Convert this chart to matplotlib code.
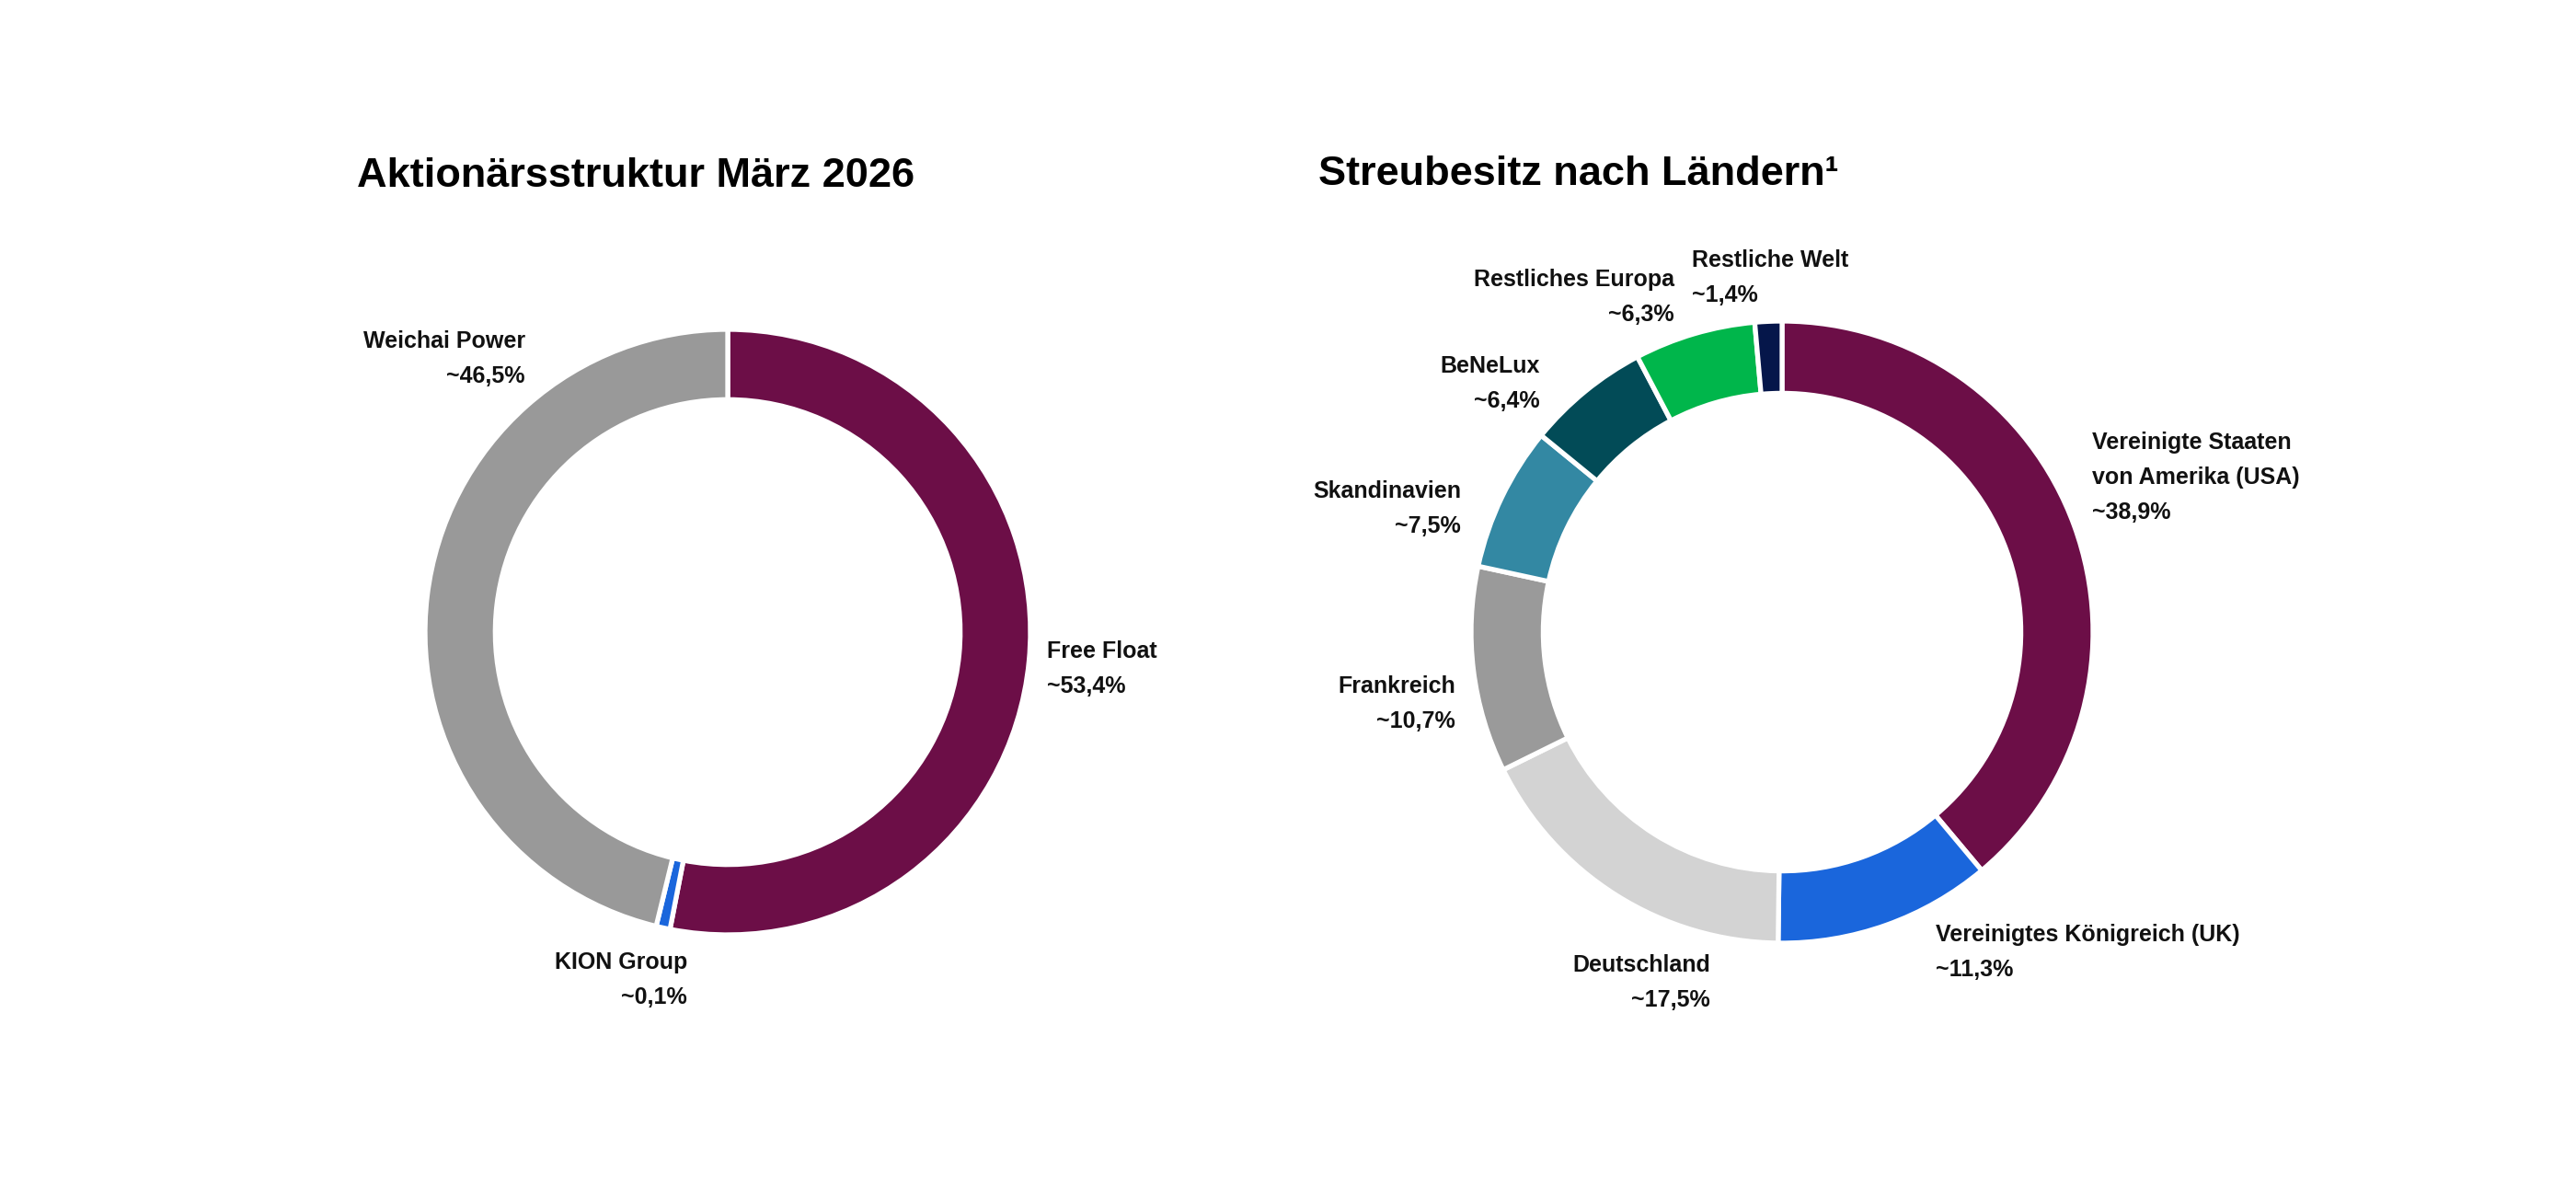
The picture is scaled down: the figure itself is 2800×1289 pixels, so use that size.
import matplotlib
matplotlib.use("Agg")
import matplotlib.pyplot as plt

W, H = 2800, 1289

# Aktionärsstruktur (left donut), clockwise from 12 o'clock
owner_names = ["Free Float", "KION Group", "Weichai Power"]
owner_shares = [53.4, 0.1, 46.5]
owner_colors = ["#6c0e47", "#1a66dc", "#999999"]

# Streubesitz nach Ländern (right donut), clockwise from 12 o'clock
country_names = ["Vereinigte Staaten\nvon Amerika (USA)", "Vereinigtes Königreich (UK)",
                 "Deutschland", "Frankreich", "Skandinavien", "BeNeLux",
                 "Restliches Europa", "Restliche Welt"]
country_shares = [38.9, 11.3, 17.5, 10.7, 7.5, 6.4, 6.3, 1.4]
country_colors = ["#6c0e47", "#1a66dc", "#d3d3d3", "#9a9a9a", "#3388a3",
                  "#024b57", "#00b64b", "#05164a"]

titles = ["Aktionärsstruktur März 2026", "Streubesitz nach Ländern¹"]

FONT = ["Liberation Sans", "DejaVu Sans"]
LINE = 38  # px between label lines

# label anchors in pixels: (x, baseline of first line, alignment)
owner_pos = [(1138, 715, "left"), (747, 1053, "right"), (571, 378, "right")]
country_pos = [(2274, 488, "left"), (2104, 1023, "left"), (1859, 1056, "right"),
               (1582, 753, "right"), (1588, 541, "right"), (1674, 405, "right"),
               (1820, 311, "right"), (1839, 290, "left")]


def pct(v):
    return "~" + f"{v:.1f}".replace(".", ",") + "%"


def donut(fig, cx, cy, r, values, colors):
    ax = fig.add_axes([(cx - r) / W, (H - cy - r) / H, 2 * r / W, 2 * r / H])
    # tiny shares still get a visible sliver, like in the original
    shown = [max(v, 0.75) for v in values]
    ax.pie(shown, colors=colors, startangle=90, counterclock=False, radius=1,
           wedgeprops=dict(width=0.232, edgecolor="white", linewidth=3.8))
    ax.set_xlim(-1, 1)
    ax.set_ylim(-1, 1)
    ax.set_aspect("equal")
    ax.axis("off")
    return ax


def labels(fig, names, values, positions):
    for name, v, (x, y, ha) in zip(names, values, positions):
        lines = name.split("\n") + [pct(v)]
        for i, t in enumerate(lines):
            fig.text(x / W, 1 - (y + i * LINE) / H, t, ha=ha, va="baseline",
                     fontsize=18, fontweight="bold", family=FONT, color="#111111")


fig = plt.figure(figsize=(W / 100, H / 100), dpi=100)
fig.patch.set_facecolor("white")

donut(fig, 791, 687, 329, owner_shares, owner_colors)
donut(fig, 1937, 687, 338, country_shares, country_colors)

labels(fig, owner_names, owner_shares, owner_pos)
labels(fig, country_names, country_shares, country_pos)

fig.text(388 / W, 1 - 203 / H, titles[0], ha="left", va="baseline",
         fontsize=32.5, fontweight="bold", family=FONT, color="#000000")
fig.text(1433 / W, 1 - 201 / H, titles[1], ha="left", va="baseline",
         fontsize=32.5, fontweight="bold", family=FONT, color="#000000")

fig.savefig("out.png", dpi=100, facecolor="white")
